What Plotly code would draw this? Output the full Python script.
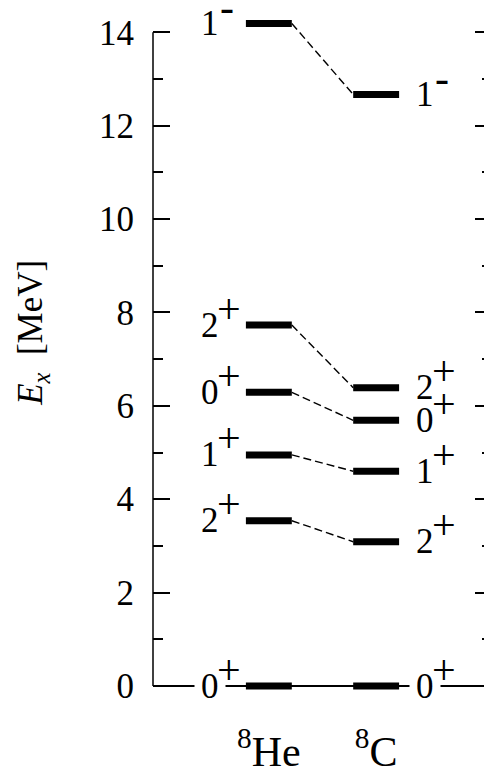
import plotly.graph_objects as go

# ---- data ----
nuclei = ["<sup>8</sup>He", "<sup>8</sup>C"]
nucleus_pos = [1, 2]
spins = ["0", "2", "1", "0", "2", "1"]
parities = ["+", "+", "+", "+", "+", "-"]
e_he = [0.0, 3.54, 4.95, 6.29, 7.73, 14.19]
e_c = [0.0, 3.09, 4.60, 5.69, 6.39, 12.67]
y_ticks = [0, 2, 4, 6, 8, 10, 12, 14]

FONT = "Liberation Serif, Times New Roman, serif"
FS = 35
SIGN_FS = 42
HW = 0.214  # half width of a level bar (x units)

fig = go.Figure()

# dashed connectors
for a, b in zip(e_he, e_c):
    if a == 0 and b == 0:
        continue
    fig.add_trace(go.Scatter(
        x=[nucleus_pos[0] + HW, nucleus_pos[1] - HW], y=[a, b],
        mode="lines", line=dict(color="black", width=1.4, dash="8px,4px"),
        hoverinfo="skip", showlegend=False))

# level bars
for pos, levels in zip(nucleus_pos, [e_he, e_c]):
    for e in levels:
        fig.add_trace(go.Scatter(
            x=[pos - HW, pos + HW], y=[e, e], mode="lines",
            line=dict(color="black", width=7), hoverinfo="skip",
            showlegend=False))

# spin-parity labels: digit + raised parity sign
for pos, levels, xs in zip(nucleus_pos, [e_he, e_c], [-70, 37.5]):
    for s, p, e in zip(spins, parities, levels):
        ground = (e == 0)
        fig.add_annotation(x=pos, y=e, xref="x", yref="y", text=s,
                           showarrow=False, xanchor="left", yanchor="middle",
                           xshift=xs - (5 if ground else 0),
                           bgcolor="white" if ground else "rgba(0,0,0,0)",
                           borderpad=6 if ground else 1,
                           font=dict(family=FONT, size=FS, color="black"))
        fig.add_annotation(x=pos, y=e, xref="x", yref="y", text=p,
                           showarrow=False, xanchor="left", yanchor="middle",
                           xshift=xs + (16.5 if p == "+" else 19.5),
                           yshift=16.5, borderpad=1,
                           font=dict(family=FONT, size=SIGN_FS, color="black"))

# left spine from 0 to 14 only
fig.add_shape(type="line", xref="paper", yref="y", x0=0, x1=0,
              y0=y_ticks[0], y1=y_ticks[-1], line=dict(color="black", width=1.5))

# y title
fig.add_annotation(xref="paper", yref="paper", x=-0.354, y=0.532,
                   text="<i>E</i><sub><i>x</i></sub>  [MeV]", textangle=-90,
                   showarrow=False, xanchor="center", yanchor="middle",
                   font=dict(family=FONT, size=FS, color="black"))

# the page body keeps an 8px default margin: size the figure to fit the window
fig.update_layout(
    width=484, height=766,
    margin=dict(l=145, r=0, t=8, b=81),
    paper_bgcolor="white", plot_bgcolor="white",
    font=dict(family=FONT, size=FS, color="black"),
    xaxis=dict(range=[-0.08, 3.08], tickvals=nucleus_pos, ticktext=nuclei,
               showgrid=False, zeroline=False, showline=False, ticks="",
               automargin=False, ticklabelstandoff=30,
               tickfont=dict(family=FONT, size=42)),
    yaxis=dict(range=[-0.15, 14.35], tickvals=y_ticks, showgrid=False,
               zeroline=True, zerolinecolor="black", zerolinewidth=1.5,
               showline=False, ticks="inside", ticklen=17, tickwidth=1.5,
               tickcolor="black", mirror="ticks", ticklabelstandoff=18,
               automargin=False, tickfont=dict(family=FONT, size=FS),
               minor=dict(dtick=1, tick0=1, ticks="inside", ticklen=10,
                          tickwidth=1.5, tickcolor="black", showgrid=False)),
)

fig.write_html("out.html")
